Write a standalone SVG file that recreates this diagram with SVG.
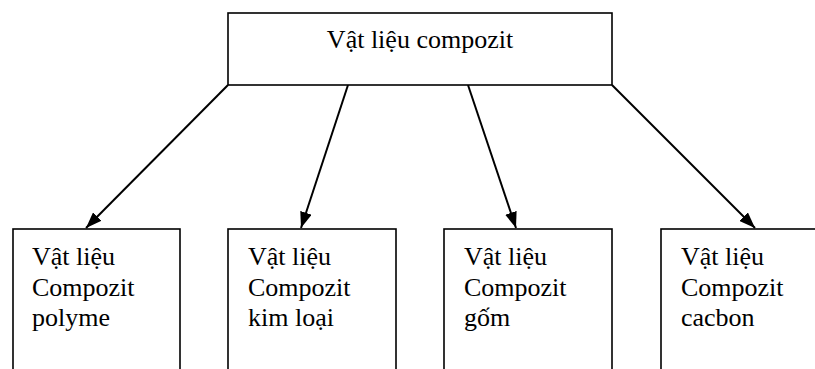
<svg xmlns="http://www.w3.org/2000/svg" width="815" height="369" viewBox="0 0 815 369">
<style>
.box{fill:#fff;stroke:#000;stroke-width:1.6}
.t{font-family:"Liberation Serif","Times New Roman",serif;font-size:26px;fill:#000}
.c{fill:none;stroke:#000;stroke-width:2}
</style>
<defs>
<marker id="ah" viewBox="0 0 16 12" refX="16" refY="6" markerWidth="16" markerHeight="12" markerUnits="userSpaceOnUse" orient="auto">
<path d="M0,0 L16,6 L0,12 z" fill="#000"/>
</marker>
</defs>
<g id="connectors">
<line class="c" x1="228" y1="85" x2="86" y2="228" marker-end="url(#ah)"/>
<line class="c" x1="348" y1="85" x2="301" y2="228" marker-end="url(#ah)"/>
<line class="c" x1="468" y1="85" x2="516" y2="228" marker-end="url(#ah)"/>
<line class="c" x1="612" y1="85" x2="755" y2="228" marker-end="url(#ah)"/>
</g>
<g id="root">
<rect class="box" x="228" y="13" width="384" height="72"/>
<text class="t" x="420" y="48" text-anchor="middle">Vật liệu compozit</text>
</g>
<g id="polyme">
<rect class="box" x="13" y="229" width="167" height="200"/>
<text class="t"><tspan x="32" y="265">Vật liệu</tspan><tspan x="32" y="296">Compozit</tspan><tspan x="32" y="326">polyme</tspan></text>
</g>
<g id="kimloai">
<rect class="box" x="228" y="229" width="168" height="200"/>
<text class="t"><tspan x="248" y="265">Vật liệu</tspan><tspan x="248" y="296">Compozit</tspan><tspan x="248" y="326">kim loại</tspan></text>
</g>
<g id="gom">
<rect class="box" x="444" y="229" width="168" height="200"/>
<text class="t"><tspan x="464" y="265">Vật liệu</tspan><tspan x="464" y="296">Compozit</tspan><tspan x="464" y="326">gốm</tspan></text>
</g>
<g id="cacbon">
<rect class="box" x="661" y="229" width="168" height="200"/>
<text class="t"><tspan x="681" y="265">Vật liệu</tspan><tspan x="681" y="296">Compozit</tspan><tspan x="681" y="326">cacbon</tspan></text>
</g>
</svg>
